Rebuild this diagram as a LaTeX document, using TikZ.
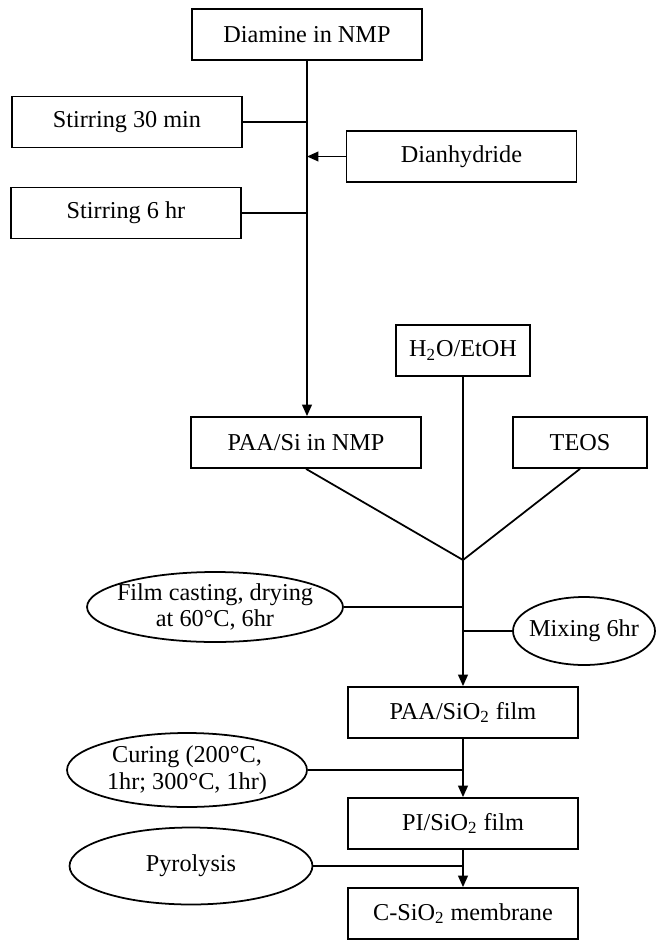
\documentclass[tikz,border=0pt]{standalone}
\usepackage{fontspec}
\setmainfont{Liberation Serif}
\usetikzlibrary{shapes.geometric,arrows.meta}

\begin{document}
\begin{tikzpicture}[x=0.02cm,y=-0.02cm,
	font=\fontsize{13.8}{15}\selectfont,
	box/.style={draw, line width=1pt, minimum width=4.6cm, minimum height=1.02cm, inner sep=0pt},
	smallbox/.style={box, minimum width=2.68cm},
	oval/.style={draw, ellipse, line width=1pt, inner sep=-6pt, align=center},
	link/.style={line width=1pt},
	flow/.style={link, -{Triangle[length=6.5pt,width=5.5pt]}}]
			\useasboundingbox (0,0) rectangle (657,940);
			\node[box] (diamine) at (307,34.5) {Diamine in NMP};
			\node[box] (stir30) at (127,122) {Stirring 30 min};
			\node[box] (dianhyd) at (461.5,156.5) {Dianhydride};
			\node[box] (stir6) at (126,213) {Stirring 6 hr};
			\node[smallbox] (solvent) at (463,350.5) {H\textsubscript{2}O/EtOH};
			\node[box] (paasi) at (306,442.5) {PAA/Si in NMP};
			\node[smallbox] (teos) at (580,442.5) {TEOS};
			\coordinate (mix) at (463,560);
			\node[oval, minimum width=5.12cm, minimum height=1.4cm] (casting) at (215,607) {Film casting, drying\\at 60°C, 6hr};
			\node[oval, minimum width=2.84cm, minimum height=1.36cm] (mixing) at (584,631) {Mixing 6hr};
			\node[box] (paafilm) at (463,712.5) {PAA/SiO\textsubscript{2} film};
			\node[oval, minimum width=4.8cm, minimum height=1.48cm] (curing) at (187,770) {Curing (200°C,\\1hr; 300°C, 1hr)};
			\node[box] (pifilm) at (463,823.5) {PI/SiO\textsubscript{2} film};
			\node[oval, minimum width=4.86cm, minimum height=1.54cm] (pyro) at (191,866) {Pyrolysis};
			\node[box] (membrane) at (463,913.5) {C-SiO\textsubscript{2} membrane};
			\draw[flow] (diamine.south) -- (diamine.south |- paasi.north);
			\draw[link] (stir30) -- (stir30 -| diamine);
			\draw[flow] (dianhyd) -- (dianhyd -| diamine);
			\draw[link] (stir6) -- (stir6 -| diamine);
			\draw[link] (paasi.south) -- (mix);
			\draw[link] (teos.south) -- (mix);
			\draw[flow] (solvent) -- (paafilm);
			\draw[link] (casting) -- (casting -| mix);
			\draw[link] (mixing) -- (mixing -| mix);
			\draw[flow] (paafilm) -- (pifilm);
			\draw[link] (curing) -- (curing -| paafilm);
			\draw[flow] (pifilm) -- (membrane);
			\draw[link] (pyro) -- (pyro -| pifilm);
		\end{tikzpicture}
\end{document}
